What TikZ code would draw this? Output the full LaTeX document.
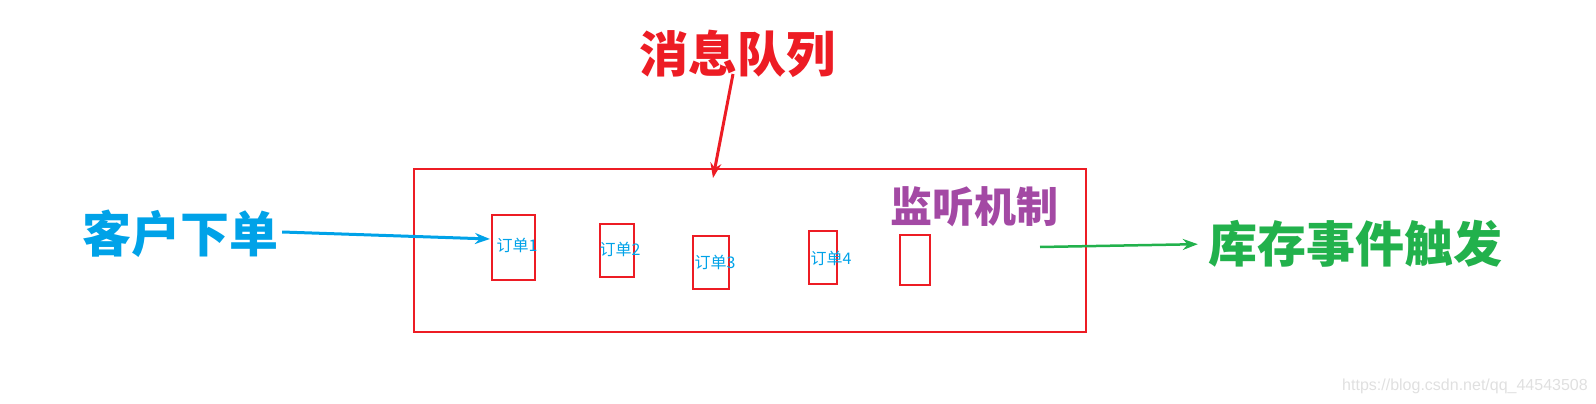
\documentclass[tikz,border=0pt]{standalone}
\usepackage{fontspec}
\usepackage{xcolor}
\usetikzlibrary{shapes, arrows.meta, positioning, calc}
\newfontfamily\cjk{Noto Sans CJK SC}
\newfontfamily\wmfont{Liberation Sans}
\definecolor{qred}{HTML}{ED1C24}
\definecolor{qblue}{HTML}{00A2E8}
\definecolor{qgreen}{HTML}{22B14C}
\definecolor{qpurple}{HTML}{A349A4}

\begin{document}
\begin{tikzpicture}[
x=1pt, y=-1pt,
title_node/.style={font=\cjk\bfseries\fontsize{49}{52}\selectfont, inner sep=0pt},
order_box/.style={rectangle, draw=qred, line width=2pt, minimum width=#1, inner sep=0pt},
order_text/.style={font=\cjk\fontsize{16}{18}\selectfont, text=qblue, inner sep=0pt},
arr/.style={-{Stealth[length=15pt, width=11pt]}}
]
\useasboundingbox (0,0) rectangle (1596,404);

% Queue
\node[rectangle, draw=qred, line width=2pt, minimum width=672pt, minimum height=163pt] (mq) at (750,250.5) {};
\node[title_node, text=qred] (mqname) at (737,54) {消息队列};
\coordinate (mqin) at (713,178);

% Orders
\node[order_box=43pt, minimum height=65pt] (o1) at (513.5,247.5) {};
\node[order_box=34pt, minimum height=53pt] (o2) at (617,250.5) {};
\node[order_box=36pt, minimum height=53pt] (o3) at (711,262.5) {};
\node[order_box=28pt, minimum height=53pt] (o4) at (823,257.5) {};
\node[order_box=30pt, minimum height=50pt] (o5) at (915,260) {};
\node[order_text] (t1) at (517,245) {订单1};
\node[order_text] (t2) at (620,249) {订单2};
\node[order_text] (t3) at (715,262) {订单3};
\node[order_text] (t4) at (831,258) {订单4};

% Listener
\node[font=\cjk\bfseries\fontsize{42}{46}\selectfont, inner sep=0pt, text=qpurple] (listen) at (974,207) {监听机制};

% Customer and stock
\node[title_node, text=qblue] (cust) at (180,234) {客户下单};
\coordinate (in1) at (490,239);
\node[title_node, text=qgreen] (stock) at (1355,244) {库存事件触发};
\coordinate (out1) at (1040,247);

% Edges
\draw[arr, line width=3pt, qred] (mqname.south) ++(-4,-4) -- (mqin);
\draw[arr, line width=3pt, qblue] (cust.east) ++(4,-2) -- (in1);
\draw[arr, line width=2.5pt, qgreen, shorten >=10pt] (out1) -- (stock.west);

\node[font=\wmfont\fontsize{16}{18}\selectfont, text=black!12] (wm) at (1465,386) {https://blog.csdn.net/qq\_44543508};
\end{tikzpicture}
\end{document}
